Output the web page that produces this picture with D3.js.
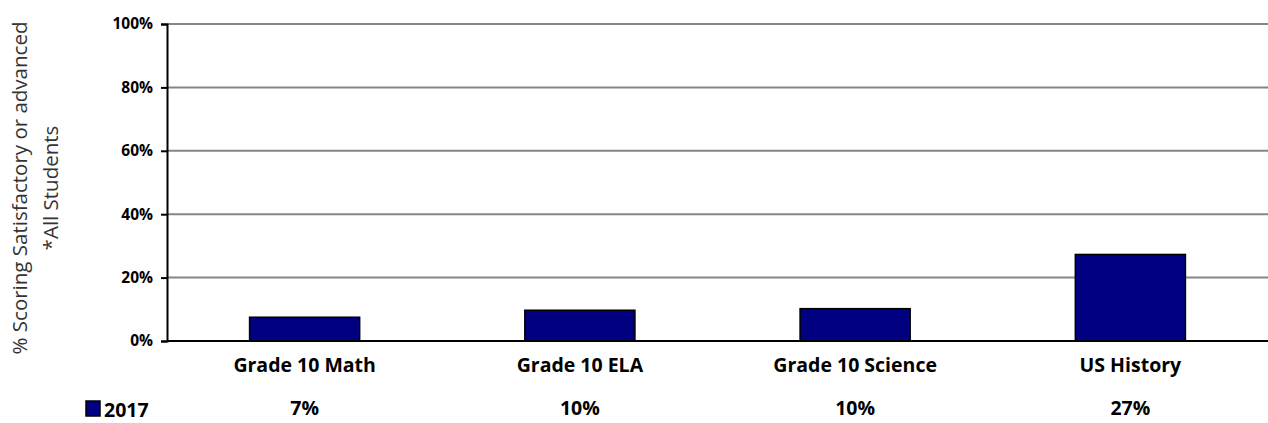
<!DOCTYPE html>
<html>
<head>
<meta charset="utf-8">
<script src="https://cdn.jsdelivr.net/npm/d3@7"></script>
<style>
  body { margin: 0; background: #fff; }
  text { font-family: "Open Sans", "Liberation Sans", sans-serif; }
</style>
</head>
<body>
<div id="chart"></div>
<script>
// data
const categories = ['Grade 10 Math', 'Grade 10 ELA', 'Grade 10 Science', 'US History'];
const values2017 = [7.5, 9.7, 10.2, 27.3];
const valueLabels = ['7%', '10%', '10%', '27%'];
const seriesName = '2017';
const yTicks = [0, 20, 40, 60, 80, 100];

const width = 1268, height = 423;
const margin = { top: 24, right: 0, bottom: 82, left: 167 };

const svg = d3.select('#chart').append('svg')
    .attr('width', width)
    .attr('height', height);

const x = d3.scaleBand()
    .domain(categories)
    .range([margin.left, width - margin.right])
    .paddingInner(0.6)
    .paddingOuter(0.3);

const y = d3.scaleLinear()
    .domain([0, 100])
    .range([height - margin.bottom, margin.top]);

// grid lines
svg.append('g')
    .selectAll('line')
    .data(yTicks.filter(d => d > 0))
    .enter()
    .append('line')
    .attr('x1', margin.left)
    .attr('x2', width)
    .attr('y1', d => y(d))
    .attr('y2', d => y(d))
    .attr('stroke', '#868686')
    .attr('stroke-width', 2);

// bars
svg.append('g')
    .selectAll('rect')
    .data(values2017)
    .enter()
    .append('rect')
    .attr('x', (d, i) => x(categories[i]))
    .attr('y', d => y(d))
    .attr('width', x.bandwidth())
    .attr('height', d => y(0) - y(d))
    .attr('fill', '#000080')
    .attr('stroke', '#000')
    .attr('stroke-width', 1.5);

// y axis
const yAxis = svg.append('g')
    .attr('transform', `translate(${margin.left},0)`)
    .call(d3.axisLeft(y).tickValues(yTicks).tickFormat(d => d + '%').tickSize(6));
yAxis.attr('font-size', null).attr('font-family', null);
yAxis.select('.domain').attr('stroke', '#000').attr('stroke-width', 2);
yAxis.selectAll('.tick line').attr('stroke', '#000').attr('stroke-width', 2);
yAxis.selectAll('.tick text')
    .attr('x', -14)
    .style('font-size', '15.5px')
    .style('font-weight', 'bold')
    .attr('fill', '#000');

// x baseline
svg.append('line')
    .attr('x1', margin.left)
    .attr('x2', width)
    .attr('y1', y(0))
    .attr('y2', y(0))
    .attr('stroke', '#000')
    .attr('stroke-width', 2);

// category labels
svg.append('g')
    .selectAll('text')
    .data(categories)
    .enter()
    .append('text')
    .attr('x', d => x(d) + x.bandwidth() / 2)
    .attr('y', 372)
    .attr('text-anchor', 'middle')
    .attr('font-size', 19.5)
    .attr('font-weight', 'bold')
    .text(d => d);

// y axis title
const title = svg.append('text')
    .attr('transform', 'translate(27,188) rotate(-90)')
    .attr('text-anchor', 'middle')
    .attr('font-size', 20.5)
    .attr('fill', '#333');
title.append('tspan').attr('x', 0).attr('dy', 0).text('% Scoring Satisfactory or advanced');
title.append('tspan').attr('x', 0).attr('dy', 31).text('*All Students');

// data table row
svg.append('rect')
    .attr('x', 86)
    .attr('y', 401)
    .attr('width', 14)
    .attr('height', 15)
    .attr('fill', '#000080')
    .attr('stroke', '#000')
    .attr('stroke-width', 1.5);
svg.append('text')
    .attr('x', 104)
    .attr('y', 417)
    .attr('font-size', 19.5)
    .attr('font-weight', 'bold')
    .text(seriesName);

svg.append('g')
    .selectAll('text')
    .data(valueLabels)
    .enter()
    .append('text')
    .attr('x', (d, i) => x(categories[i]) + x.bandwidth() / 2)
    .attr('y', 415)
    .attr('text-anchor', 'middle')
    .attr('font-size', 19.5)
    .attr('font-weight', 'bold')
    .text(d => d);
</script>
</body>
</html>
